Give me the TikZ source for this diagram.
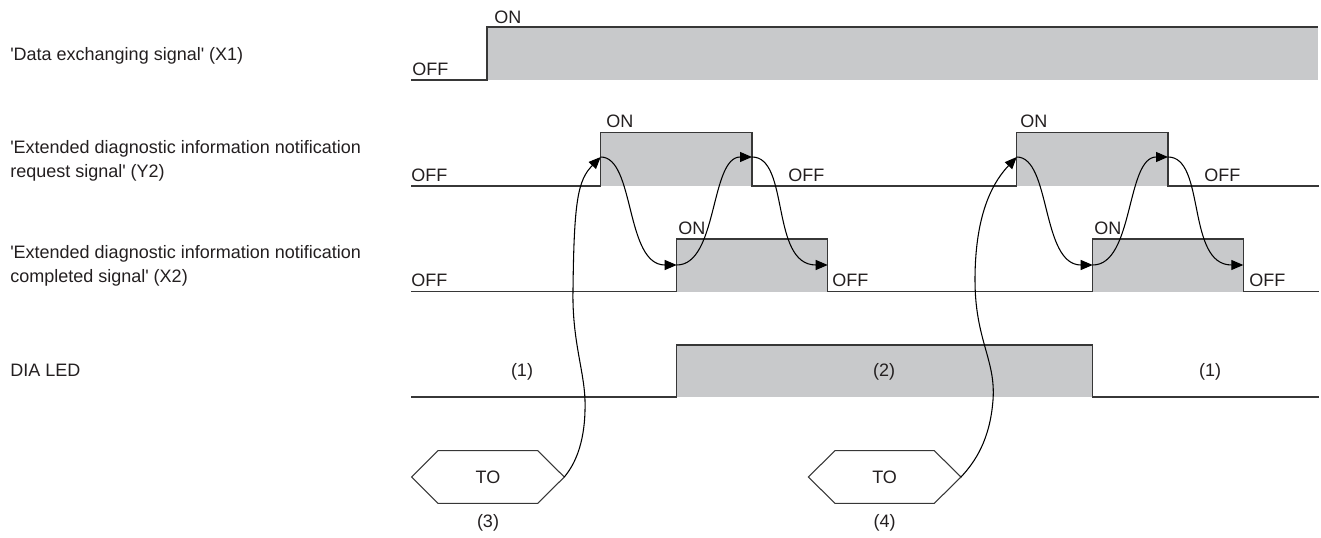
\documentclass[tikz,border=0pt]{standalone}
\usepackage{fontspec}
\setmainfont{Liberation Sans}
\usetikzlibrary{arrows.meta}
\definecolor{sig}{RGB}{55,55,55}
\definecolor{hi}{RGB}{200,201,203}
\definecolor{txt}{RGB}{35,31,32}
\newcommand{\sq}{\textquotesingle}
\begin{document}
\begin{tikzpicture}[x=0.75pt,y=-0.75pt,
  font=\fontsize{13.5}{18}\selectfont, text=txt,
  sigline/.style={draw=sig,line width=1.1pt},
  fillhi/.style={fill=hi,draw=none},
  lab/.style={anchor=base west,inner sep=0pt},
  ctr/.style={anchor=center,inner sep=0pt},
  side/.style={anchor=west,inner sep=0pt,align=left},
  hexline/.style={draw=sig,line width=0.8pt},
  flow/.style={draw=black,line width=0.8pt,-{Triangle[length=9pt,width=7.5pt]}}]
\useasboundingbox (0,0) rectangle (1321,538);

% ---------- left labels ----------
\node[lab] (lx1) at (10,61) {\sq Data exchanging signal\sq{} (X1)};
\node[side] (ly2) at (10,160.7) {\sq Extended diagnostic information notification\\request signal\sq{} (Y2)};
\node[side] (lx2) at (10,265.8) {\sq Extended diagnostic information notification\\completed signal\sq{} (X2)};
\node[lab] (ldia) at (10,377) {DIA LED};

% ---------- X1 ----------
\path[fillhi] (487,27) rectangle (1318,80);
\draw[sigline] (411,80) -- (487,80) -- (487,27) -- (1318,27);
\node[lab] (x1off) at (412,76) {OFF};
\node[lab] (x1on) at (494,24) {ON};

% ---------- Y2 ----------
\path[fillhi] (600.7,132.7) rectangle (752,186);
\path[fillhi] (1016.7,132.7) rectangle (1168,186);
\draw[sigline] (411,186) -- (600.7,186) -- (600.7,132.7) -- (752,132.7) -- (752,186)
  -- (1016.7,186) -- (1016.7,132.7) -- (1168,132.7) -- (1168,186) -- (1319,186);
\node[lab] (y2off0) at (411,182) {OFF};
\node[lab] (y2on1) at (606,128) {ON};
\node[lab] (y2off1) at (788,182) {OFF};
\node[lab] (y2on2) at (1020,128) {ON};
\node[lab] (y2off2) at (1204,182) {OFF};

% ---------- X2 ----------
\path[fillhi] (676.7,239) rectangle (827.7,291.7);
\path[fillhi] (1092.7,239) rectangle (1243.3,291.7);
\draw[sigline] (411,291.7) -- (676.7,291.7) -- (676.7,239) -- (827.7,239) -- (827.7,291.7)
  -- (1092.7,291.7) -- (1092.7,239) -- (1243.3,239) -- (1243.3,291.7) -- (1319,291.7);
\node[lab] (x2off0) at (411,287) {OFF};
\node[lab] (x2on1) at (678,235) {ON};
\node[lab] (x2off1) at (832,287) {OFF};
\node[lab] (x2on2) at (1094,235) {ON};
\node[lab] (x2off2) at (1249,287) {OFF};

% ---------- DIA LED ----------
\path[fillhi] (676.7,345) rectangle (1092.5,397);
\draw[sigline] (411,397) -- (676.7,397) -- (676.7,345) -- (1092.5,345) -- (1092.5,397) -- (1319,397);
\node[ctr] (d1) at (522,372) {(1)};
\node[ctr] (d2) at (884,372) {(2)};
\node[ctr] (d3) at (1210,372) {(1)};

% ---------- TO hexagons ----------
\draw[hexline] (411.7,477) -- (438,450.7) -- (537.7,450.7) -- (564.3,477) -- (537.7,503.3) -- (438,503.3) -- cycle;
\node[ctr] (to1) at (488,477) {TO};
\node[ctr] (n3) at (488,523) {(3)};
\coordinate (h1) at (564.3,477);
\draw[hexline] (808.3,477) -- (835,450.7) -- (934.3,450.7) -- (961,477) -- (934.3,503.3) -- (835,503.3) -- cycle;
\node[ctr] (to2) at (884.6,477) {TO};
\node[ctr] (n4) at (884.6,523) {(4)};
\coordinate (h2) at (961,477);

% ---------- edge points ----------
\coordinate (ya1) at (600.7,157);
\coordinate (xa1) at (676.7,265);
\coordinate (yb1) at (752,157);
\coordinate (xb1) at (827.7,265);
\coordinate (ya2) at (1016.7,157);
\coordinate (xa2) at (1092.7,265);
\coordinate (yb2) at (1168,157);
\coordinate (xb2) at (1243.3,265);

% ---------- flow arrows ----------
\draw[flow] (h1) .. controls (576,463) and (586,440) .. (585,400)
  .. controls (584,370) and (572,340) .. (573,290)
  .. controls (574,200) and (578,180) .. (ya1);
\draw[flow] (h2) .. controls (975,462) and (990,440) .. (993,400)
  .. controls (996,360) and (975,340) .. (975,280)
  .. controls (975,210) and (995,180) .. (ya2);

\draw[flow] (ya1) .. controls (635,157) and (625,265) .. (xa1);
\draw[flow] (xa1) .. controls (718,265) and (710,157) .. (yb1);
\draw[flow] (yb1) .. controls (790,157) and (770,265) .. (xb1);

\draw[flow] (ya2) .. controls (1051,157) and (1041,265) .. (xa2);
\draw[flow] (xa2) .. controls (1134,265) and (1126,157) .. (yb2);
\draw[flow] (yb2) .. controls (1206,157) and (1186,265) .. (xb2);
\end{tikzpicture}
\end{document}
